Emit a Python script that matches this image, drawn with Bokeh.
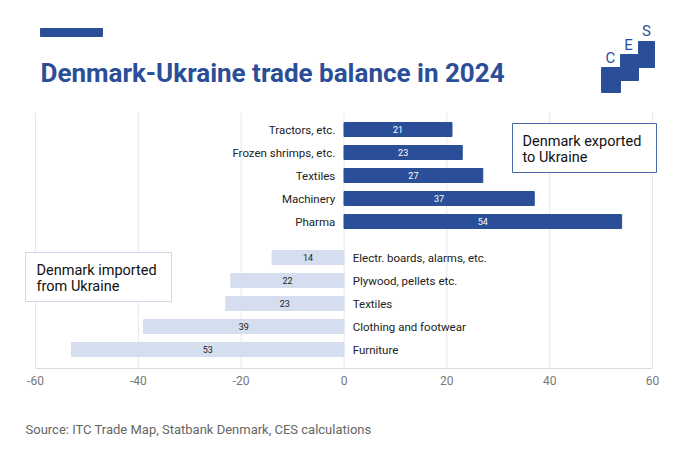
from bokeh.plotting import figure
from bokeh.models import Range1d
from bokeh.core.properties import value
from bokeh.embed import file_html
from bokeh.resources import INLINE

export_labels = ["Tractors, etc.", "Frozen shrimps, etc.", "Textiles", "Machinery", "Pharma"]
export_values = [21, 23, 27, 37, 54]
import_labels = ["Electr. boards, alarms, etc.", "Plywood, pellets etc.", "Textiles", "Clothing and footwear", "Furniture"]
import_values = [14, 22, 23, 39, 53]
ticks = [-60, -40, -20, 0, 20, 40, 60]

DARK = "#2b4e98"
LIGHT = "#d5deee"
FONT = value("Roboto")

# page pixel -> data x (frame spans the whole canvas)
def px(x):
    return (x - 343.5) / 5.1417

p = figure(width=664, height=437, output_backend="svg", toolbar_location=None,
           x_range=Range1d(px(0), px(664)), y_range=Range1d(437, 0),
           min_border=0, outline_line_color=None)
p.axis.visible = False
p.grid.visible = False

# grid + axis
p.segment(x0=ticks, x1=ticks, y0=[112] * len(ticks), y1=[368] * len(ticks), line_color="#e6e8ee", line_width=1)
p.segment(x0=[-60], x1=[60], y0=[368], y1=[368], line_color="#d8dbe2", line_width=1)
p.text(x=ticks, y=[380] * len(ticks), text=[str(t) for t in ticks], text_font=FONT, text_font_size="12px",
       text_color="#777777", text_align="center", text_baseline="middle")

ey = [129 + 23 * i for i in range(len(export_values))]
iy = [257 + 23 * i for i in range(len(import_values))]
neg = [-v for v in import_values]

p.hbar(y=ey, left=0, right=export_values, height=14, color=DARK)
p.hbar(y=iy, left=neg, right=0, height=14, color=LIGHT)

p.text(x=[v / 2 for v in export_values], y=ey, text=[str(v) for v in export_values], text_font=FONT,
       text_font_size="9px", text_color="white", text_align="center", text_baseline="middle")
p.text(x=[v / 2 for v in neg], y=iy, text=[str(v) for v in import_values], text_font=FONT,
       text_font_size="9px", text_color="#222222", text_align="center", text_baseline="middle")

p.text(x=[-1.7] * 5, y=ey, text=export_labels, text_font=FONT, text_font_size="11.5px",
       text_color="#222222", text_align="right", text_baseline="middle")
p.text(x=[1.7] * 5, y=iy, text=import_labels, text_font=FONT, text_font_size="11.5px",
       text_color="#222222", text_align="left", text_baseline="middle")

# annotation boxes
p.quad(left=[px(512)], right=[px(656)], top=[123], bottom=[172], fill_color="white",
       line_color="#4a67a8", line_width=1)
p.text(x=[px(522)] * 2, y=[141, 157], text=["Denmark exported", "to Ukraine"], text_font=FONT,
       text_font_size="14.5px", text_color="#111111", text_baseline="middle")
p.quad(left=[px(25)], right=[px(171)], top=[252], bottom=[301], fill_color="white",
       line_color="#d0d9ec", line_width=1)
p.text(x=[px(36)] * 2, y=[270, 286], text=["Denmark imported", "from Ukraine"], text_font=FONT,
       text_font_size="14.5px", text_color="#111111", text_baseline="middle")

# header
p.quad(left=[px(40)], right=[px(102)], top=[28], bottom=[36], color=DARK)
p.text(x=[px(40)], y=[72], text=["Denmark-Ukraine trade balance in 2024"], text_font=FONT,
       text_font_size="26px", text_font_style="bold", text_color=DARK, text_baseline="middle")

# logo
lx = [601, 620, 620, 638, 638, 654, 654, 638, 638, 620, 620, 601]
ly = [67, 67, 54, 54, 41, 41, 67, 67, 80, 80, 92, 92]
p.patch(x=[px(v) for v in lx], y=ly, color=DARK)
p.text(x=[px(610), px(628), px(646)], y=[57, 44, 30], text=["C", "E", "S"], text_font=FONT,
       text_font_size="15px", text_color=DARK, text_align="center", text_baseline="middle")

p.text(x=[px(25)], y=[429], text=["Source: ITC Trade Map, Statbank Denmark, CES calculations"], text_font=FONT,
       text_font_size="13px", text_color="#666666", text_baseline="middle")

open("out.html", "w").write(file_html(p, INLINE))
